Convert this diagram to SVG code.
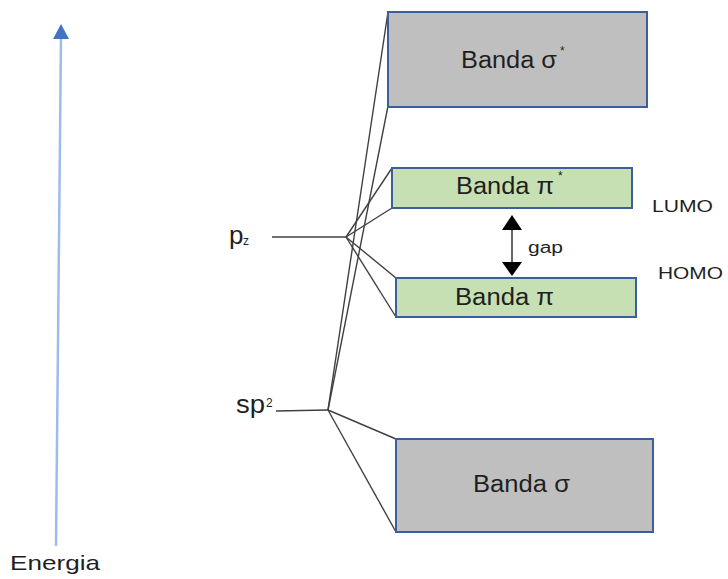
<svg xmlns="http://www.w3.org/2000/svg" width="728" height="579" viewBox="0 0 728 579">
<style>
text{font-family:"Liberation Sans",Arial,sans-serif;fill:#1f1f1f}
.grey{fill:#bfbfbf;stroke:#3a5f9e;stroke-width:2}
.green{fill:#c6e0b4;stroke:#3a5f9e;stroke-width:2}
.ln{stroke:#404040;stroke-width:1.4;fill:none}
.big{font-size:23px}
.sup{font-size:12px}
.lbl{font-size:17px}
</style>
<rect width="728" height="579" fill="#fff"/>
<g id="connectors">
<line class="ln" x1="276" y1="411" x2="328" y2="410"/>
<line class="ln" x1="328" y1="410" x2="388" y2="12"/>
<line class="ln" x1="328" y1="410" x2="388" y2="106"/>
<line class="ln" x1="328" y1="410" x2="396" y2="439"/>
<line class="ln" x1="328" y1="410" x2="396" y2="532"/>
<line class="ln" x1="272" y1="237" x2="346" y2="237"/>
<line class="ln" x1="346" y1="237" x2="392" y2="168"/>
<line class="ln" x1="346" y1="237" x2="392" y2="208"/>
<line class="ln" x1="346" y1="237" x2="396" y2="278"/>
<line class="ln" x1="346" y1="237" x2="396" y2="317"/>
<line x1="512" y1="228" x2="512" y2="264" stroke="#333" stroke-width="1.5"/>
<polygon points="512,215 502,230 522,230" fill="#000"/>
<polygon points="512,276 502,262 522,262" fill="#000"/>
</g>
<g id="energy-axis">
<line x1="56" y1="546" x2="61" y2="36" stroke="#9dbbeb" stroke-width="2.5"/>
<polygon points="61,24 53,39 69,39" fill="#4472c4"/>
<text x="10" y="570" font-size="21" textLength="90" lengthAdjust="spacingAndGlyphs">Energia</text>
</g>
<g id="sigma-star">
<rect class="grey" x="388" y="12" width="259" height="95"/>
<text class="big" x="461" y="68" textLength="96" lengthAdjust="spacingAndGlyphs">Banda σ</text>
<text class="sup" x="560" y="55">*</text>
</g>
<g id="pi-star">
<rect class="green" x="392" y="168" width="240" height="40"/>
<text class="big" x="456" y="194" textLength="98" lengthAdjust="spacingAndGlyphs">Banda π</text>
<text class="sup" x="558" y="180">*</text>
</g>
<g id="pi">
<rect class="green" x="396" y="278" width="240" height="39"/>
<text class="big" x="455" y="305" textLength="99" lengthAdjust="spacingAndGlyphs">Banda π</text>
</g>
<g id="sigma">
<rect class="grey" x="396" y="439" width="257" height="93"/>
<text class="big" x="473" y="492" textLength="97" lengthAdjust="spacingAndGlyphs">Banda σ</text>
</g>
<g id="lumo"><text class="lbl" x="652" y="212" textLength="61" lengthAdjust="spacingAndGlyphs">LUMO</text></g>
<g id="homo"><text class="lbl" x="658" y="279" textLength="65" lengthAdjust="spacingAndGlyphs">HOMO</text></g>
<g id="gap"><text x="528" y="253" font-size="16" textLength="35" lengthAdjust="spacingAndGlyphs">gap</text></g>
<g id="pz">
<text x="229" y="244" font-size="26">p</text>
<text x="243" y="245" font-size="12">z</text>
</g>
<g id="sp2">
<text x="236" y="413" font-size="25" textLength="29" lengthAdjust="spacingAndGlyphs">sp</text>
<text x="266" y="407" font-size="12">2</text>
</g>
</svg>
